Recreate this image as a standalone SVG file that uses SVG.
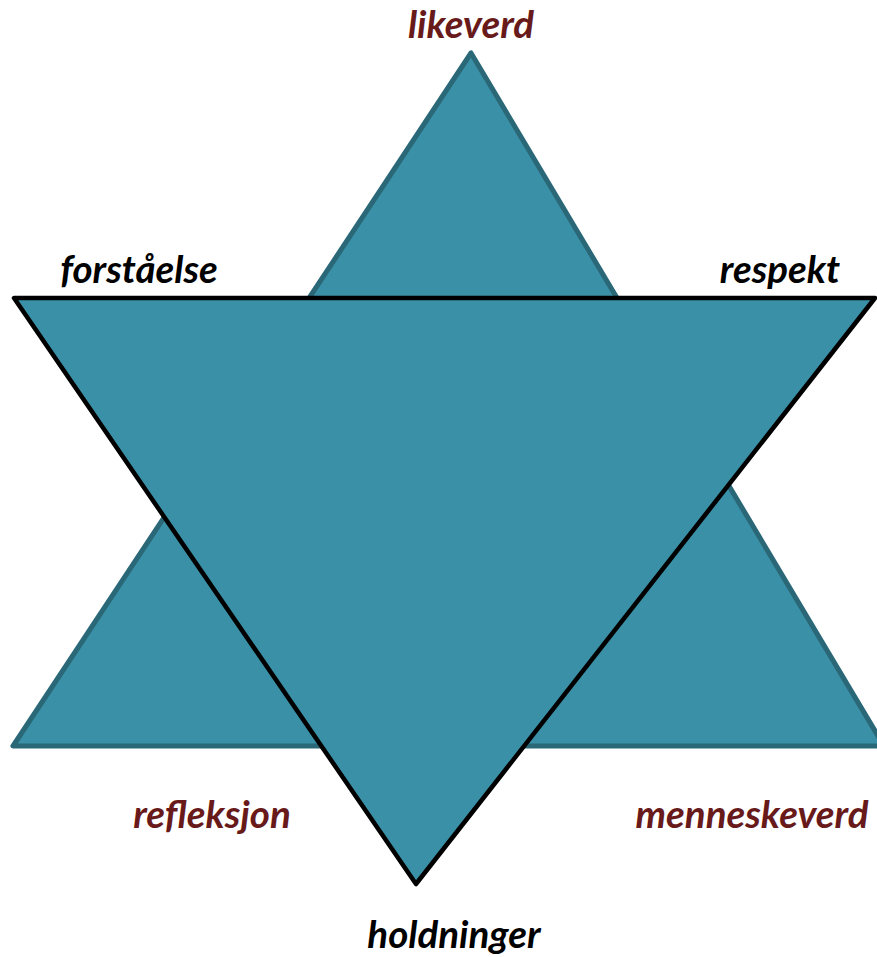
<svg xmlns="http://www.w3.org/2000/svg" width="877" height="957" viewBox="0 0 877 957">
<style>
.lbl{font-family:Lato,"Open Sans","Liberation Sans",sans-serif;font-weight:bold;font-style:italic;font-size:38.5px;text-anchor:middle}
.red{fill:#681a1a}
.blk{fill:#000}
</style>
<rect width="877" height="957" fill="#fff"/>
<g id="up-triangle">
<polygon points="471,53 13,746 884,746" fill="#3a90a7" stroke="#2a6878" stroke-width="5" stroke-linejoin="round"/>
</g>
<g id="down-triangle">
<polygon points="14,298 875,298 416,884" fill="#3a90a7" stroke="#000" stroke-width="4.5" stroke-linejoin="round"/>
</g>
<g id="labels">
<text id="likeverd" class="lbl red" x="471" y="38">likeverd</text>
<text id="forstaelse" class="lbl blk" x="139" y="283">forståelse</text>
<text id="respekt" class="lbl blk" x="780" y="283">respekt</text>
<text id="refleksjon" class="lbl red" x="212" y="828">refleksjon</text>
<text id="menneskeverd" class="lbl red" x="752" y="828">menneskeverd</text>
<text id="holdninger" class="lbl blk" x="454" y="948">holdninger</text>
</g>
</svg>
